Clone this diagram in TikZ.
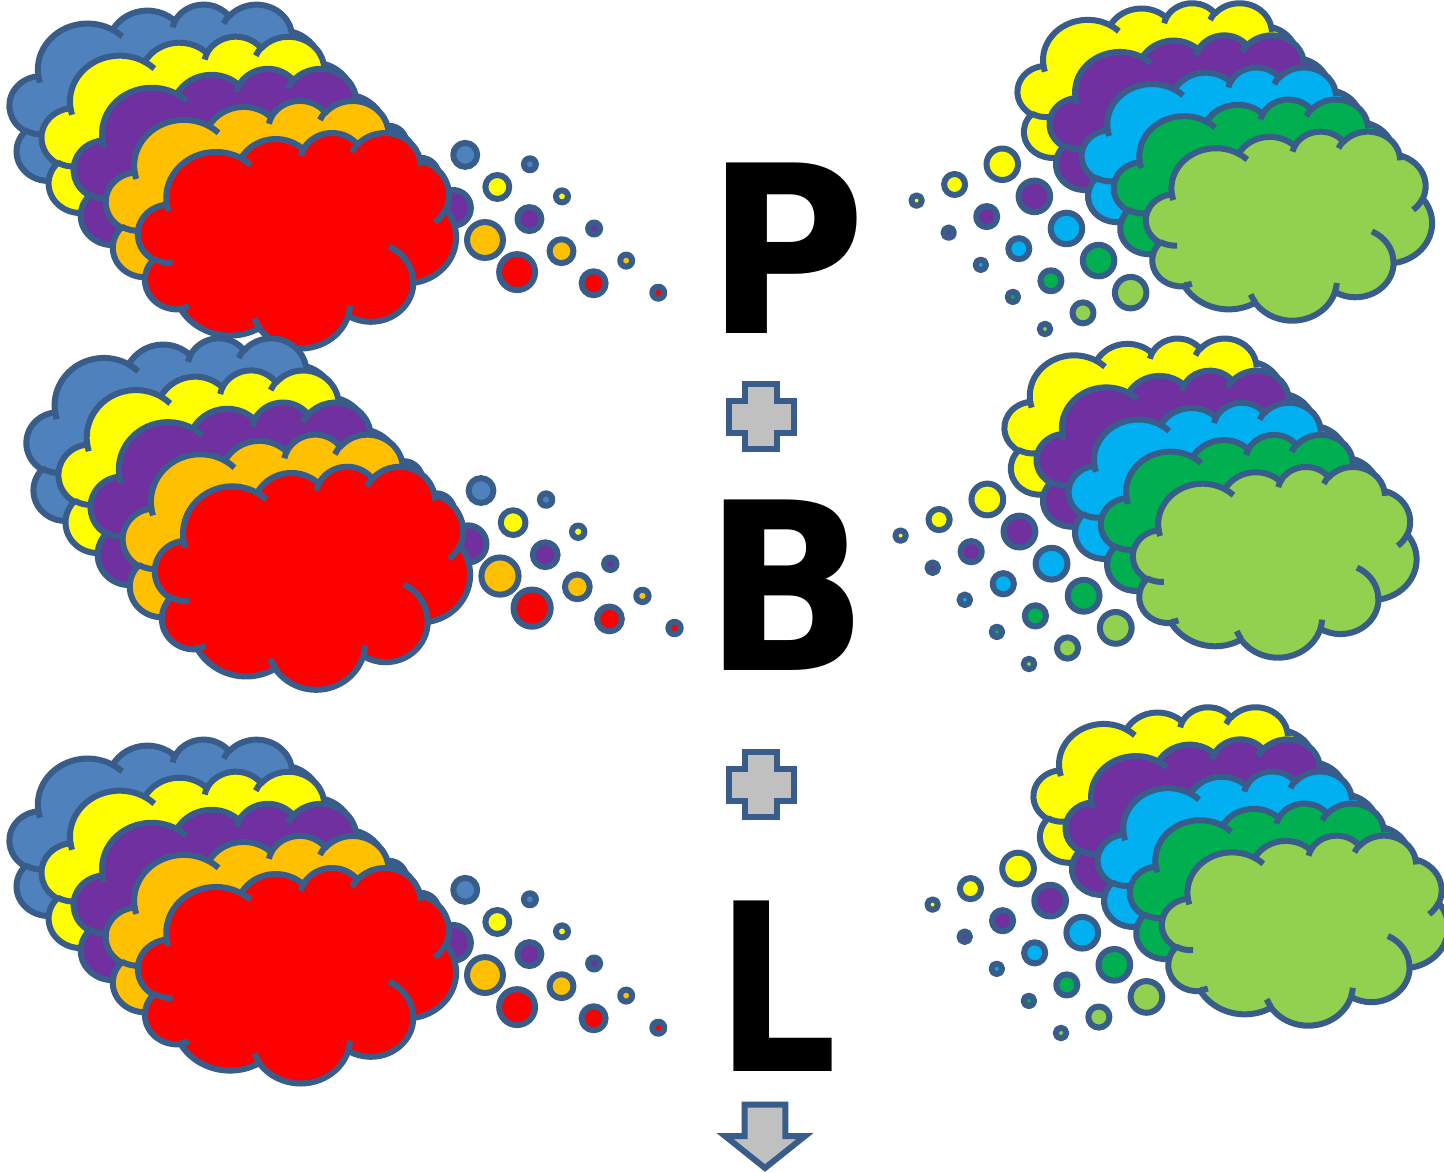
\documentclass[tikz,border=0pt]{standalone}
\usepackage{graphicx}
\usepackage{fontspec}
\newfontfamily\letterfont{DejaVu Sans}

\definecolor{edgeblue}{HTML}{385D8A}
\definecolor{cBlue}{HTML}{4F81BD}
\definecolor{cYellow}{HTML}{FFFF00}
\definecolor{cPurple}{HTML}{7030A0}
\definecolor{cOrange}{HTML}{FFC000}
\definecolor{cRed}{HTML}{FF0000}
\definecolor{cCyan}{HTML}{00B0F0}
\definecolor{cGreen}{HTML}{00B050}
\definecolor{cLime}{HTML}{92D050}
\definecolor{cGrey}{HTML}{C0C0C0}

% Cloud outline in a 43.2 x 43.2 box with y pointing down.
% Each arc: x radius, y radius, start angle and sweep as seen on the ellipse;
% the angles are turned into the parametric angles that TikZ expects.
\newcommand\arcangles[4]{%
  \pgfmathsetmacro\arcS{atan2(#1*sin(#3),#2*cos(#3))}%
  \pgfmathsetmacro\arcE{atan2(#1*sin(#3+#4),#2*cos(#3+#4))}%
  \pgfmathsetmacro\arcE{\arcS+mod(\arcE-\arcS+720,360)}%
}
\newcommand\outlinearc[4]{%
  \arcangles{#1}{#2}{#3}{#4}%
  \xdef\cloudoutline{\cloudoutline arc[start angle=\arcS,end angle=\arcE,x radius=#1pt,y radius=#2pt]}%
}
\newcommand\detailarc[6]{%
  \arcangles{#3}{#4}{#5}{#6}%
  \xdef\clouddetail{\clouddetail (#1,#2) arc[start angle=\arcS,end angle=\arcE,x radius=#3pt,y radius=#4pt]}%
}

\gdef\cloudoutline{(3.900,14.370)}
\outlinearc{6.753}{9.190}{-190.48748}{123.78053}
\outlinearc{5.333}{7.267}{-144.10238}{89.94523}
\outlinearc{4.365}{5.945}{-145.80792}{99.72302}
\outlinearc{4.857}{6.595}{-130.98607}{117.24173}
\outlinearc{5.333}{7.273}{-78.70888}{109.02692}
\outlinearc{6.775}{9.220}{-46.26725}{130.26900}
\outlinearc{5.785}{7.867}{0.62502}{114.03333}
\outlinearc{6.752}{9.215}{22.45160}{115.17255}
\outlinearc{7.720}{10.543}{66.24263}{75.71102}
\outlinearc{4.360}{5.918}{-274.94208}{146.73557}
\outlinearc{4.345}{5.945}{-246.82850}{152.51885}

% inner strokes where the puffs meet
\gdef\clouddetail{}
\detailarc{4.693}{26.177}{4.345}{5.945}{86.742}{26.4295}
\detailarc{6.928}{34.899}{4.360}{5.918}{73.61047}{11.44747}
\detailarc{16.478}{39.090}{6.752}{9.215}{137.62415}{14.0811}
\detailarc{28.827}{34.751}{6.752}{9.215}{6.45327}{15.99835}
\detailarc{34.129}{22.954}{5.785}{7.867}{-70.29235}{70.91737}
\detailarc{41.798}{15.354}{5.333}{7.273}{30.31803}{27.7515}
\detailarc{38.324}{5.426}{4.857}{6.595}{-13.74433}{14.8589}
\detailarc{29.078}{3.952}{4.857}{6.595}{-149.18145}{18.19537}
\detailarc{22.141}{4.720}{4.365}{5.945}{-163.49427}{17.68635}
\detailarc{14.000}{5.192}{6.753}{9.190}{-66.70695}{12.31935}
\detailarc{4.127}{15.789}{6.753}{9.190}{157.65435}{11.85817}

\tikzset{
  cloudfill/.style={draw=edgeblue,line width=6pt,line join=round},
  cloudline/.style={draw=edgeblue,line width=6pt},
  greyshape/.style={fill=cGrey,draw=edgeblue,line width=6pt,line join=miter},
  bigletter/.style={anchor=base,inner sep=0pt,text=black,
    font=\letterfont\bfseries\fontsize{234}{234}\selectfont},
}

% thought cloud: box corner x, y, width, height, end of the bubble trail x, y, colour
\newcommand\thoughtcloud[7]{%
  \pgfmathsetmacro\cX{#1}\pgfmathsetmacro\cY{#2}%
  \pgfmathsetmacro\cTx{#5}\pgfmathsetmacro\cTy{#6}%
  \pgfmathsetmacro\cHc{\cX+#3/2}%
  \pgfmathsetmacro\cVc{\cY+#4/2}%
  \pgfmathsetmacro\cSs{min(#3,#4)}%
  \pgfmathsetmacro\cAng{atan2(\cTy-\cVc,\cTx-\cHc)}%
  \pgfmathsetmacro\cAngB{atan2(#3/2*sin(\cAng),#4/2*cos(\cAng))}%
  \pgfmathsetmacro\cGx{\cHc+#3/2*cos(\cAngB)-\cTx}%
  \pgfmathsetmacro\cGy{\cVc+#4/2*sin(\cAngB)-\cTy}%
  \pgfmathsetmacro\cGl{veclen(\cGx,\cGy)}%
  \pgfmathsetmacro\cEl{(\cGl-\cSs*0.3055556)/3}%
  \pgfmathsetmacro\cMid{(\cEl+\cSs/12)/\cGl}%
  \pgfmathsetmacro\cBig{(\cSs*0.2222222+2*\cEl)/\cGl}%
  \begin{scope}[shift={(\cX,\cY)},xscale=#3/43.2,yscale=#4/43.2]
    \path[cloudfill,fill=#7] \cloudoutline -- cycle;
  \end{scope}
  \path[cloudfill,fill=#7] (\cTx,\cTy) circle[radius={\cSs*1pt/36}]
    ({\cTx+\cMid*\cGx},{\cTy+\cMid*\cGy}) circle[radius={\cSs*1pt/18}]
    ({\cTx+\cBig*\cGx},{\cTy+\cBig*\cGy}) circle[radius={\cSs*1pt/12}];
  \begin{scope}[shift={(\cX,\cY)},xscale=#3/43.2,yscale=#4/43.2]
    \path[cloudline] \clouddetail;
  \end{scope}
}

\begin{document}
\begin{tikzpicture}[x=1pt,y=1pt,yscale=-1]
\useasboundingbox (0,0) rectangle (1444,1173);
\fill[white] (0,0) rectangle (1444,1173);
\clip (0,0) rectangle (1444,1173);

% left stacks, back to front
\foreach \k/\col in {4/cBlue,3/cYellow,2/cPurple,1/cOrange,0/cRed}{
  \thoughtcloud{138-32.1*\k}{132.3-32.1*\k}{318}{215.4}{658.3-32.1*\k}{292.7-32.1*\k}{\col}
}
\foreach \k/\col in {4/cBlue,3/cYellow,2/cPurple,1/cOrange,0/cRed}{
  \thoughtcloud{155-32.1*\k}{466-32.1*\k}{315}{223}{674.5-32.1*\k}{628-32.1*\k}{\col}
}
\foreach \k/\col in {4/cBlue,3/cYellow,2/cPurple,1/cOrange,0/cRed}{
  \thoughtcloud{138-32.1*\k}{867.3-32.1*\k}{318}{215.4}{658.3-32.1*\k}{1027.7-32.1*\k}{\col}
}

% right stacks, back to front
\foreach \k/\col in {4/cYellow,3/cPurple,2/cCyan,1/cGreen,0/cLime}{
  \thoughtcloud{1146-32.1*\k}{131-32.1*\k}{286}{189}{1045-32.1*\k}{329-32.1*\k}{\col}
}
\foreach \k/\col in {4/cYellow,3/cPurple,2/cCyan,1/cGreen,0/cLime}{
  \thoughtcloud{1133-32.1*\k}{466.3-32.1*\k}{283.5}{190.7}{1029-32.1*\k}{664-32.1*\k}{\col}
}
\foreach \k/\col in {4/cYellow,3/cPurple,2/cCyan,1/cGreen,0/cLime}{
  \thoughtcloud{1162-32.1*\k}{835-32.1*\k}{286}{190}{1061-32.1*\k}{1033-32.1*\k}{\col}
}

% centre column
\node[bigletter] (P) at (786,333) {\scalebox{0.93}[1]{P}};
\node[bigletter] (B) at (786.8,670) {\scalebox{0.92}[1]{B}};
\node[bigletter] (L) at (776.8,1071) {\scalebox{0.81}[1]{L}};

\foreach \cy in {416.7,784.5}{
  \begin{scope}[shift={(761.3,\cy)}]
    \path[greyshape] (-16,-32.3) -- (16,-32.3) -- (16,-16) -- (32.3,-16)
      -- (32.3,16) -- (16,16) -- (16,32.3) -- (-16,32.3) -- (-16,16)
      -- (-32.3,16) -- (-32.3,-16) -- (-16,-16) -- cycle;
  \end{scope}
}

\path[greyshape] (744.7,1104.7) -- (785.3,1104.7) -- (785.3,1136) -- (805,1136)
  -- (765,1168) -- (725,1136) -- (744.7,1136) -- cycle;
\end{tikzpicture}
\end{document}
